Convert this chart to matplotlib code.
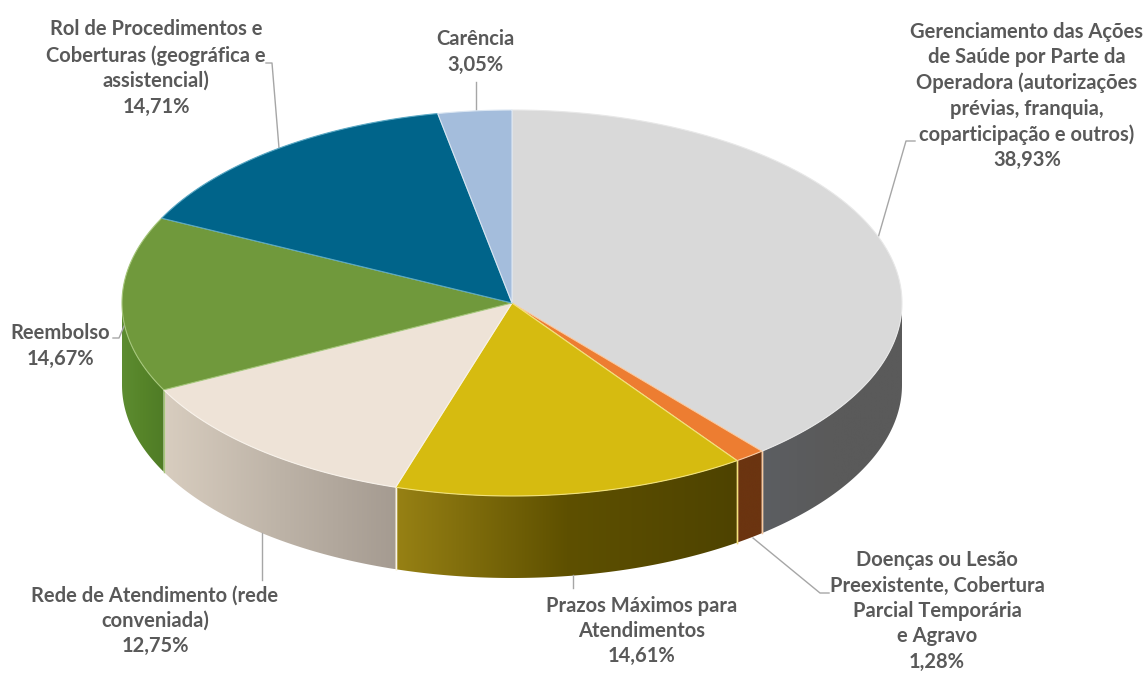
import numpy as np
import matplotlib
matplotlib.use("Agg")
import matplotlib.pyplot as plt
from matplotlib.colors import LinearSegmentedColormap
from matplotlib.patches import Polygon

# Data
categories = [
    "Gerenciamento das Ações\nde Saúde por Parte da\nOperadora (autorizações\nprévias, franquia,\ncoparticipação e outros)",
    "Doenças ou Lesão\nPreexistente, Cobertura\nParcial Temporária\ne Agravo",
    "Prazos Máximos para\nAtendimentos",
    "Rede de Atendimento (rede\nconveniada)",
    "Reembolso",
    "Rol de Procedimentos e\nCoberturas (geográfica e\nassistencial)",
    "Carência",
]
values = [38.93, 1.28, 14.61, 12.75, 14.67, 14.71, 3.05]
top_colors = ["#d9d9d9", "#ed7d31", "#d6bb10", "#eee3d7", "#70993c", "#00648a", "#a4bddc"]
edge_colors = ["#e8e8e8", "#f8c9a0", "#f2e27a", "#f8f2ea", "#a5c67a", "#5aa8c4", "#dbe6f2"]
side_stops = [
    ["#5c5e62", "#5a5a5a", "#5a5a5a"],
    ["#6b3410", "#6b3410", "#6b3410"],
    ["#978114", "#5e5000", "#4e4300"],
    ["#d8cdbf", "#bdb3a7", "#a59b91"],
    ["#5d8c31", "#568429", "#4f7c26"],
    ["#00648a", "#00648a", "#00648a"],
    ["#a4bddc", "#a4bddc", "#a4bddc"],
]

# Pixel layout of the disc
cx, cy = 512, 303
rx, ry = 390, 193
depth = 82

fig = plt.figure(figsize=(11.47, 6.73), dpi=100)
ax = fig.add_axes([0, 0, 1, 1])

# Slice angles, clockwise from the top
edges = np.concatenate([[0], np.cumsum(values)]) / sum(values) * 2 * np.pi


def rim(a):
    return cx + rx * np.sin(a), cy - ry * np.cos(a)


# Side wall first
for i in range(len(values)):
    a0 = max(edges[i], np.pi / 2)
    a1 = min(edges[i + 1], 3 * np.pi / 2)
    if a1 <= a0:
        continue
    a = np.linspace(a0, a1, 80)
    x, y = rim(a)
    pts = np.column_stack([np.r_[x, x[::-1]], np.r_[y, y[::-1] + depth]])
    poly = Polygon(pts, closed=True, facecolor="none", edgecolor="none")
    ax.add_patch(poly)
    cmap = LinearSegmentedColormap.from_list("s", side_stops[i])
    im = ax.imshow(np.linspace(0, 1, 256).reshape(1, -1), cmap=cmap, aspect="auto",
                   extent=[x.min(), x.max(), y.max() + depth, y.min()], zorder=1)
    im.set_clip_path(poly)
    # light seams at the slice ends
    for xx, yy in [(x[0], y[0]), (x[-1], y[-1])]:
        if 0.01 < abs(xx - cx) < rx - 1 and yy < cy + ry:
            ax.plot([xx, xx], [yy, yy + depth], color=edge_colors[i], lw=1, zorder=2)

# Top face
for i in range(len(values)):
    a = np.linspace(edges[i], edges[i + 1], 200)
    x, y = rim(a)
    ax.fill(np.r_[cx, x], np.r_[cy, y], facecolor=top_colors[i],
            edgecolor=edge_colors[i], lw=0.8, zorder=3)

# Leader lines
leaders = [
    [(878, 238), (906, 141), (915, 141)],
    [(753, 538), (820, 593), (829, 593)],
    [(573, 575), (573, 588)],
    [(262, 533), (262, 580)],
    [(113, 338), (119, 338), (125, 324)],
    [(266, 63), (272, 63), (279, 148)],
    [(476, 82), (476, 112)],
]
for line in leaders:
    ax.plot(*zip(*line), color="#a6a6a6", lw=1, zorder=2)

# Labels
label_pos = [(1027, 96), (937, 611), (642, 631), (155, 621), (60, 346), (156, 68), (475, 52)]
for name, val, (lx, ly) in zip(categories, values, label_pos):
    pct = f"{val:.2f}%".replace(".", ",")
    ax.text(lx, ly, name + "\n" + pct, ha="center", va="center", family="Lato",
            fontweight="bold", fontsize=14.5, color="#595959", linespacing=1.34,
            zorder=5)

ax.set_xlim(0, 1147)
ax.set_ylim(673, 0)
ax.axis("off")

fig.savefig("out.png", dpi=100)
